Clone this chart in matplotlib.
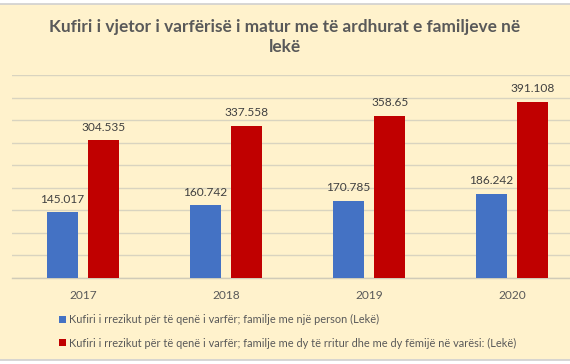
import matplotlib
matplotlib.use("Agg")
import matplotlib.pyplot as plt
from matplotlib.patches import Rectangle
import numpy as np

years = ["2017", "2018", "2019", "2020"]
single = [145.017, 160.742, 170.785, 186.242]
family = [304.535, 337.558, 358.65, 391.108]
single_labels = ["145.017", "160.742", "170.785", "186.242"]
family_labels = ["304.535", "337.558", "358.65", "391.108"]
yticks = [0, 50, 100, 150, 200, 250, 300, 350, 400, 450]
legend_labels = [
    "Kufiri i rrezikut për të qenë i varfër; familje me një person (Lekë)",
    "Kufiri i rrezikut për të qenë i varfër; familje me dy të rritur dhe me dy fëmijë në varësi: (Lekë)",
]
title = "Kufiri i vjetor i varfërisë i matur me të ardhurat e familjeve në\nlekë"

W, H = 570, 364
fig = plt.figure(figsize=(W / 100, H / 100), dpi=100)
fig.patch.set_facecolor("white")
cream = "#FFF2CC"
fig.patches.append(Rectangle((0, 4 / H), 1, (360 - 4) / H, transform=fig.transFigure,
                             facecolor=cream, edgecolor="none", zorder=-5))
fig.lines.append(plt.Line2D([0, 1], [1 - 3.5 / H, 1 - 3.5 / H], transform=fig.transFigure,
                            color="#D0D0D0", lw=1.2, zorder=-4))
fig.lines.append(plt.Line2D([0, 1], [1 - 360 / H, 1 - 360 / H], transform=fig.transFigure,
                            color="#D0D0D0", lw=1.2, zorder=-4))

left_px, cat_px = 11.5, 143
bottom_px, top_px = 277.5, 75
ax = fig.add_axes([left_px / W, (H - bottom_px) / H, 4 * cat_px / W, (bottom_px - top_px) / H])
ax.set_facecolor("none")
ax.set_zorder(1)

font = "Lato"
x = np.arange(len(years))
bw = 0.22
off = 0.145
b1 = ax.bar(x - off, single, bw, color="#4472C4", zorder=3, label=legend_labels[0])
b2 = ax.bar(x + off, family, bw, color="#C00000", zorder=3, label=legend_labels[1])
for bars, labs in ((b1, single_labels), (b2, family_labels)):
    for r, t in zip(bars, labs):
        ax.annotate(t, (r.get_x() + r.get_width() / 2, r.get_height()), xytext=(0, 5.5),
                    textcoords="offset points", ha="center", va="bottom",
                    fontsize=8.6, color="#404040", family=font)

ax.set_xlim(-0.5, 3.5)
ax.set_ylim(0, 450)
ax.set_yticks(yticks)
ax.tick_params(axis="y", length=0, labelleft=False)
ax.set_xticks(x)
ax.set_xticklabels(years, family=font, fontsize=8.6, color="#595959")
ax.tick_params(axis="x", length=0, pad=9)
ax.yaxis.grid(True, color="#D9D4C0", lw=1, zorder=0)
ax.set_axisbelow(True)
for s in ["top", "right", "left"]:
    ax.spines[s].set_visible(False)
ax.spines["bottom"].set_color("#D0CBB8")
ax.spines["bottom"].set_linewidth(1)

fig.text(0.5, 1 - 37 / H, title, ha="center", va="center", fontsize=12.4,
         fontweight="bold", color="#595959", family=font, linespacing=1.25)

leg = fig.legend(handles=[b1, b2], loc="upper left", bbox_to_anchor=(55 / W, 1 - 310 / H),
                 frameon=False, prop={"family": font, "size": 7.95}, handlelength=0.6,
                 handleheight=0.6, handletextpad=0.25, labelspacing=1.1, borderaxespad=0)
for t in leg.get_texts():
    t.set_color("#595959")

fig.savefig("out.png", dpi=100, facecolor="white")
